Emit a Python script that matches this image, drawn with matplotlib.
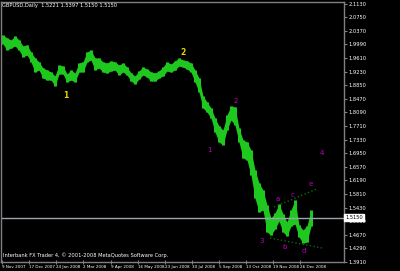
import matplotlib
matplotlib.use('Agg')
import matplotlib.pyplot as plt
import numpy as np

plt.rcParams['font.family'] = ['Liberation Sans Narrow', 'DejaVu Sans']

# block highs / lows, one block per 4 daily bars starting 9 Nov 2007
highs = [2.0252, 2.0169, 2.0113, 2.0224, 2.0113, 1.9945, 1.9973, 1.9777, 1.9610, 1.9498,
         1.9330, 1.9274, 1.9219, 1.9107, 1.9414, 1.9386, 1.9163, 1.9274, 1.9191, 1.9470,
         1.9498, 1.9777, 1.9833, 1.9610, 1.9610, 1.9498, 1.9470, 1.9526, 1.9498, 1.9414,
         1.9470, 1.9358, 1.9191, 1.9107, 1.9247, 1.9358, 1.9302, 1.9219, 1.9191, 1.9247,
         1.9358, 1.9498, 1.9442, 1.9526, 1.9610, 1.9554, 1.9526, 1.9470, 1.9274, 1.9051,
         1.8548, 1.8380, 1.8213, 1.7933, 1.7710, 1.7598, 1.8017, 1.8269, 1.8241, 1.7654,
         1.7319, 1.7263, 1.7039, 1.6480, 1.6117, 1.5922, 1.5503, 1.5139, 1.5279, 1.5531,
         1.5251, 1.5028, 1.5363, 1.5642, 1.4944, 1.4804, 1.4916, 1.5363]
lows = [2.0001, 1.9833, 1.9889, 1.9945, 1.9833, 1.9638, 1.9694, 1.9498, 1.9219, 1.9274,
        1.9051, 1.8995, 1.8995, 1.8827, 1.9163, 1.9163, 1.8939, 1.8995, 1.8939, 1.9219,
        1.9219, 1.9498, 1.9554, 1.9274, 1.9330, 1.9219, 1.9191, 1.9247, 1.9274, 1.9135,
        1.9219, 1.9135, 1.8967, 1.8883, 1.9023, 1.9135, 1.9079, 1.8967, 1.8967, 1.9051,
        1.9107, 1.9247, 1.9219, 1.9274, 1.9386, 1.9358, 1.9302, 1.9219, 1.8939, 1.8660,
        1.8213, 1.8101, 1.7933, 1.7542, 1.7263, 1.7179, 1.7598, 1.7877, 1.7738, 1.7263,
        1.6816, 1.6760, 1.6341, 1.5698, 1.5307, 1.5363, 1.4748, 1.4664, 1.4832, 1.5056,
        1.4748, 1.4636, 1.4916, 1.4972, 1.4609, 1.4441, 1.4469, 1.4916]
last_close = 1.5150
header = "GBPUSD,Daily  1.5221 1.5397 1.5150 1.5150"

price_ticks = [1.3910, 1.4290, 1.4670, 1.5050, 1.5430, 1.5810, 1.6190, 1.6570, 1.6950, 1.7330,
               1.7710, 1.8090, 1.8470, 1.8850, 1.9230, 1.9610, 1.9990, 2.0370, 2.0750, 2.1130]
date_pos = [1, 28, 55, 82, 110, 137, 164, 191, 218, 245, 272, 299]
date_labels = ["9 Nov 2007", "17 Dec 2007", "24 Jan 2008", "2 Mar 2008", "9 Apr 2008",
               "16 May 2008", "23 Jun 2008", "30 Jul 2008", "5 Sep 2008", "13 Oct 2008",
               "19 Nov 2008", "26 Dec 2008"]

# wave counts: (bar, price, text)
major_waves = [(65, 1.8548, "1"), (182, 1.9777, "2")]
minor_waves = [(208, 1.7039, "1"), (235, 1.8408, "2"), (261, 1.4497, "3"), (321, 1.6955, "4"),
               (277, 1.5670, "a"), (284, 1.4329, "b"), (292, 1.5782, "c"), (303, 1.4217, "d"),
               (310, 1.6089, "e")]
upper_tl = ([273, 316], [1.5447, 1.5950])
lower_tl = ([269, 321], [1.4581, 1.4301])

GRID = '#808080'
GREEN = '#1fc81f'
FS = 3.7

fig = plt.figure(figsize=(4.0, 2.71), dpi=100, facecolor='black')
ax = fig.add_axes([1 / 400, 9 / 271, 343 / 400, 260 / 271])
ax.set_facecolor('black')
ax.set_xlim(0, 343)
ax.set_ylim(1.391, 2.1174)

x = 2 + 4 * np.arange(len(highs))
ax.fill_between(x, lows, highs, color=GREEN, linewidth=0)
ax.vlines(x, lows, highs, color=GREEN, linewidth=2.2)

ax.axhline(last_close, color='#9aa4ae', linewidth=1.0)
ax.plot(*upper_tl, color='#0a6a0a', linestyle=':', linewidth=1.0)
ax.plot(*lower_tl, color='#0a6a0a', linestyle=':', linewidth=1.0)

for xx, yy, t in major_waves:
    ax.text(xx, yy, t, color='#e0d800', fontsize=5.5, fontweight='bold', ha='center',
            va='center', family='DejaVu Sans')
for xx, yy, t in minor_waves:
    ax.text(xx, yy, t, color='#c000c0', fontsize=5, ha='center', va='center',
            family='DejaVu Sans')

for s in ax.spines.values():
    s.set_color(GRID)
    s.set_linewidth(1.0)

ax.yaxis.tick_right()
ax.set_yticks(price_ticks)
ax.set_yticklabels(["%.4f" % p for p in price_ticks])
ax.tick_params(axis='y', colors=GRID, labelcolor='white', labelsize=FS, length=2, pad=1.5)
ax.set_xticks(date_pos)
ax.tick_params(axis='x', colors=GRID, labelcolor='white', labelsize=3.0, length=3, pad=0.8,
               direction='inout')
ax.set_xticklabels(date_labels)
for lbl in ax.get_xticklabels():
    lbl.set_horizontalalignment('left')

ax.text(1.5, 2.1150, header, color='white', fontsize=FS, ha='left', va='top')
ax.text(2, 1.391 + 0.0125, "Interbank FX Trader 4, \u00a9 2001-2008 MetaQuotes Software Corp.",
        color='white', fontsize=FS, ha='left', va='bottom')
ax.text(1.003, last_close, "%.4f" % last_close, transform=ax.get_yaxis_transform(),
        color='black', fontsize=FS, ha='left', va='center',
        bbox=dict(facecolor='white', edgecolor='white', pad=0.6))

fig.savefig('out.png', dpi=100, facecolor='black')
